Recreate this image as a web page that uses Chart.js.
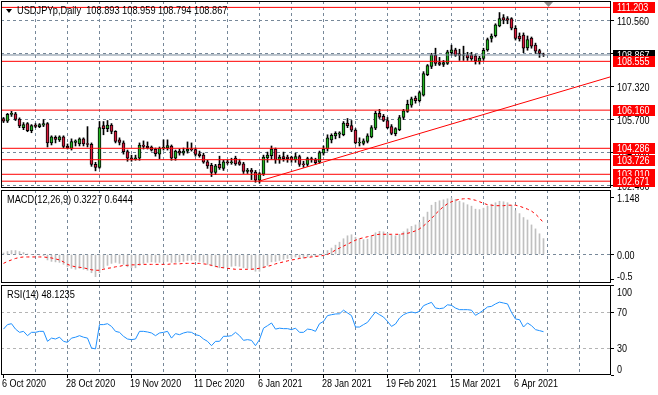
<!DOCTYPE html>
<html>
<head>
<meta charset="utf-8">
<script src="https://cdn.jsdelivr.net/npm/chart.js@4.4.1/dist/chart.umd.min.js"></script>
<style>
  html, body { margin: 0; padding: 0; background: #fff; }
  #wrap { position: relative; width: 658px; height: 395px; overflow: hidden; background: #fff; }
  #wrap canvas { position: absolute; left: 0; top: 0; }
  .cap { position: absolute; font: 11px/13px "Liberation Sans", Arial, sans-serif; color: #000;
         white-space: pre; transform: scaleX(0.84); transform-origin: 0 0; z-index: 3; }
  .tick { position: absolute; font: 11px/13px "Liberation Sans", Arial, sans-serif; color: #000;
          white-space: pre; transform: scaleX(0.82); transform-origin: 0 0; z-index: 4; }
  .tri { position: absolute; left: 6px; top: 9px; width: 0; height: 0;
         border-left: 3px solid transparent; border-right: 3px solid transparent; border-top: 4px solid #000; }
</style>
</head>
<body>
<div id="wrap">
  <canvas id="cMain" width="658" height="395"></canvas>
  <canvas id="cMacd" width="658" height="395"></canvas>
  <canvas id="cRsi" width="658" height="395"></canvas>
  <canvas id="cAxis" width="658" height="395"></canvas>
  <div class="tri"></div>
  <div class="cap" id="capMain" style="left:17px;top:4px"></div>
  <div class="cap" id="capMacd" style="left:7px;top:193px"></div>
  <div class="cap" id="capRsi" style="left:7px;top:288px"></div>
</div>
<script>
// ---- data ----
const symbolName = 'USDJPYp,Daily';
const dateLabels = ['6 Oct 2020', '28 Oct 2020', '19 Nov 2020', '11 Dec 2020', '6 Jan 2021',
                    '28 Jan 2021', '19 Feb 2021', '15 Mar 2021', '6 Apr 2021'];
const labelEvery = 16;  // bars between date labels
const gridEvery = 8;    // bars between vertical grid lines

const opens = [
  105.75, 105.62, 105.95, 105.98, 105.72, 105.30, 105.50, 105.15,
  105.42, 105.35, 105.42, 105.50, 104.55, 104.82, 104.70, 104.85,
  104.40, 104.28, 104.58, 104.50, 104.75, 104.52, 104.48, 103.50,
  103.35, 105.40, 105.25, 105.42, 105.12, 104.70, 104.55, 104.12,
  103.82, 103.75, 103.80, 104.45, 104.38, 104.35, 104.25, 104.00,
  104.30, 104.30, 104.40, 103.80, 104.15, 104.05, 104.15, 104.25,
  104.22, 104.02, 103.95, 103.62, 103.45, 103.10, 103.50, 103.30,
  103.62, 103.58, 103.80, 103.62, 103.52, 103.15, 103.22, 103.12,
  102.72, 103.02, 103.82, 103.92, 104.25, 103.72, 103.88, 103.85,
  103.85, 103.72, 103.88, 103.52, 103.50, 103.78, 103.72, 103.60,
  104.05, 104.25, 104.70, 104.90, 104.98, 104.95, 105.52, 105.40,
  105.18, 104.55, 104.52, 104.62, 104.85, 105.28, 106.00, 105.85,
  105.65, 105.35, 105.00, 105.20, 105.80, 106.10, 106.40, 106.75,
  106.62, 106.90, 107.90, 108.30, 108.85, 108.50, 108.40, 108.45,
  108.98, 109.12, 108.92, 108.85, 108.88, 108.88, 108.82, 108.55,
  108.70, 109.12, 109.68, 109.82, 110.30, 110.70, 110.65, 110.65,
  110.18, 109.80, 109.85, 109.22, 109.70, 109.35, 109.08, 108.893
];
const highs = [
  105.80, 106.00, 106.10, 106.05, 105.78, 105.55, 105.55, 105.45,
  105.50, 105.50, 105.70, 105.55, 104.90, 104.90, 104.90, 104.90,
  104.50, 104.75, 104.70, 104.80, 104.80, 105.35, 104.55, 103.60,
  105.60, 105.60, 105.65, 105.50, 105.15, 104.80, 104.65, 104.20,
  103.95, 103.95, 104.55, 104.65, 104.60, 104.40, 104.30, 104.35,
  104.70, 104.70, 104.45, 104.20, 104.25, 104.30, 104.60, 104.55,
  104.30, 104.15, 104.05, 103.70, 103.55, 103.50, 103.90, 103.70,
  103.70, 103.80, 103.90, 103.75, 103.60, 103.30, 103.30, 103.20,
  103.10, 103.95, 104.10, 104.40, 104.30, 103.95, 104.10, 103.95,
  103.90, 104.05, 103.95, 103.65, 103.85, 103.85, 103.80, 104.15,
  104.40, 104.95, 105.00, 105.10, 105.10, 105.60, 105.75, 105.65,
  105.25, 104.80, 104.75, 105.00, 105.40, 106.10, 106.20, 105.95,
  105.80, 105.45, 105.30, 105.90, 106.20, 106.65, 106.80, 106.85,
  107.10, 108.05, 108.40, 108.95, 109.20, 108.75, 108.60, 109.10,
  109.35, 109.20, 109.15, 109.30, 109.00, 109.00, 108.90, 108.80,
  109.20, 109.70, 109.90, 110.40, 110.95, 110.85, 110.75, 110.70,
  110.30, 109.95, 109.95, 109.80, 109.75, 109.45, 109.15, 108.959
];
const lows = [
  105.55, 105.55, 105.85, 105.65, 105.30, 105.20, 105.10, 105.05,
  105.30, 105.30, 105.35, 104.35, 104.45, 104.55, 104.62, 104.30,
  104.25, 104.20, 104.40, 104.40, 104.40, 104.35, 103.40, 103.18,
  103.30, 104.95, 105.10, 105.00, 104.55, 104.45, 104.00, 103.65,
  103.65, 103.70, 103.70, 104.25, 104.25, 104.15, 103.90, 103.78,
  104.20, 104.20, 103.70, 103.70, 103.95, 103.95, 104.05, 104.15,
  103.90, 103.85, 103.55, 103.30, 102.90, 103.00, 103.25, 103.20,
  103.50, 103.50, 103.45, 103.45, 103.05, 103.05, 102.75, 102.62,
  102.58, 102.95, 103.60, 103.75, 103.55, 103.55, 103.65, 103.60,
  103.60, 103.60, 103.40, 103.35, 103.40, 103.60, 103.50, 103.55,
  103.95, 104.15, 104.55, 104.75, 104.80, 104.90, 105.30, 105.10,
  104.50, 104.40, 104.45, 104.55, 104.80, 105.20, 105.75, 105.60,
  105.25, 104.95, 104.90, 105.15, 105.70, 106.05, 106.30, 106.50,
  106.55, 106.85, 107.85, 108.20, 108.35, 108.35, 108.30, 108.40,
  108.85, 108.80, 108.60, 108.60, 108.60, 108.60, 108.42, 108.42,
  108.60, 109.05, 109.50, 109.75, 110.25, 110.40, 110.40, 110.10,
  109.60, 109.55, 108.98, 109.10, 109.20, 108.95, 108.75, 108.794
];
const closes = [
  105.62, 105.95, 106.00, 105.70, 105.38, 105.45, 105.15, 105.40,
  105.36, 105.45, 105.50, 104.55, 104.85, 104.72, 104.85, 104.38,
  104.30, 104.62, 104.65, 104.75, 104.50, 104.48, 103.50, 103.35,
  105.30, 105.25, 105.42, 105.12, 104.62, 104.58, 104.12, 103.80,
  103.75, 103.82, 104.45, 104.38, 104.32, 104.20, 104.02, 104.28,
  104.33, 104.42, 103.80, 104.15, 104.05, 104.15, 104.25, 104.22,
  103.98, 103.92, 103.60, 103.42, 103.10, 103.42, 103.32, 103.62,
  103.58, 103.62, 103.52, 103.50, 103.15, 103.22, 103.12, 102.72,
  103.05, 103.85, 103.95, 104.25, 103.72, 103.85, 103.78, 103.78,
  103.72, 103.88, 103.50, 103.48, 103.78, 103.74, 103.58, 104.08,
  104.25, 104.80, 104.92, 105.02, 105.05, 105.52, 105.40, 105.18,
  104.55, 104.58, 104.65, 104.90, 105.30, 106.00, 105.82, 105.66,
  105.30, 105.02, 105.25, 105.80, 106.12, 106.45, 106.72, 106.62,
  107.02, 107.95, 108.35, 108.88, 108.45, 108.40, 108.50, 109.02,
  109.12, 108.85, 108.85, 108.88, 108.72, 108.68, 108.58, 108.72,
  109.10, 109.62, 109.80, 110.35, 110.65, 110.58, 110.58, 110.18,
  109.68, 109.65, 109.20, 109.62, 109.30, 109.05, 108.95, 108.867
];

const macdMain = [
  0.03, 0.06, 0.08, 0.08, 0.06, 0.04, 0.01, 0.00,
  -0.01, -0.01, -0.02, -0.11, -0.14, -0.15, -0.16, -0.20,
  -0.25, -0.28, -0.30, -0.28, -0.30, -0.32, -0.37, -0.45,
  -0.37, -0.28, -0.22, -0.18, -0.16, -0.18, -0.20, -0.25,
  -0.27, -0.27, -0.22, -0.18, -0.16, -0.15, -0.16, -0.16,
  -0.15, -0.14, -0.16, -0.16, -0.15, -0.14, -0.12, -0.115,
  -0.12, -0.14, -0.16, -0.20, -0.23, -0.25, -0.27, -0.27,
  -0.26, -0.24, -0.23, -0.24, -0.27, -0.28, -0.30, -0.34,
  -0.34, -0.27, -0.22, -0.15, -0.14, -0.12, -0.10, -0.08,
  -0.07, -0.05, -0.07, -0.07, -0.05, -0.04, -0.04, -0.01,
  0.02, 0.08, 0.13, 0.19, 0.25, 0.32, 0.38, 0.40,
  0.35, 0.32, 0.30, 0.31, 0.38, 0.44, 0.47, 0.46,
  0.43, 0.39, 0.38, 0.41, 0.46, 0.52, 0.57, 0.60,
  0.65, 0.76, 0.86, 1.00, 1.06, 1.09, 1.11, 1.13,
  1.148, 1.12, 1.08, 1.05, 1.01, 0.98, 0.92, 0.91,
  0.94, 0.98, 1.02, 1.05, 1.08, 1.07, 1.05, 1.00,
  0.89, 0.83, 0.75, 0.70, 0.60, 0.52, 0.42, 0.3227
];
const macdSignal = [
  -0.18, -0.14, -0.11, -0.08, -0.06, -0.05, -0.05, -0.05,
  -0.05, -0.05, -0.05, -0.06, -0.07, -0.09, -0.11, -0.15,
  -0.20, -0.23, -0.25, -0.26, -0.27, -0.29, -0.31, -0.32,
  -0.32, -0.30, -0.28, -0.27, -0.25, -0.24, -0.22, -0.22,
  -0.21, -0.21, -0.20, -0.20, -0.20, -0.20, -0.20, -0.20,
  -0.20, -0.20, -0.19, -0.19, -0.19, -0.18, -0.18, -0.18,
  -0.18, -0.18, -0.19, -0.20, -0.22, -0.24, -0.26, -0.27,
  -0.28, -0.29, -0.30, -0.30, -0.30, -0.30, -0.30, -0.29,
  -0.28, -0.26, -0.24, -0.22, -0.19, -0.17, -0.15, -0.13,
  -0.11, -0.10, -0.08, -0.07, -0.06, -0.05, -0.04, -0.03,
  -0.02, 0.00, 0.04, 0.09, 0.13, 0.17, 0.21, 0.25,
  0.29, 0.32, 0.34, 0.36, 0.38, 0.40, 0.41, 0.41,
  0.41, 0.41, 0.41, 0.41, 0.42, 0.43, 0.45, 0.48,
  0.52, 0.58, 0.65, 0.73, 0.82, 0.90, 0.97, 1.03,
  1.07, 1.10, 1.12, 1.13, 1.135, 1.12, 1.10, 1.07,
  1.04, 1.01, 1.00, 0.99, 0.99, 0.99, 1.00, 1.00,
  1.00, 0.98, 0.95, 0.92, 0.88, 0.82, 0.74, 0.6444
];
const rsiValues = [
  51.0, 56.0, 57.0, 51.0, 47.4, 48.5, 43.7, 47.4,
  47.4, 48.5, 48.5, 37.4, 41.0, 40.0, 42.0, 37.4,
  36.3, 41.0, 42.0, 43.7, 42.0, 41.0, 30.0, 29.0,
  56.0, 56.0, 57.0, 54.0, 48.5, 47.4, 43.0, 40.0,
  39.3, 40.0, 48.5, 48.5, 47.8, 46.7, 43.7, 46.7,
  47.4, 48.5, 41.0, 46.0, 44.8, 46.7, 47.8, 47.4,
  44.8, 43.7, 40.0, 37.4, 32.6, 37.4, 37.4, 43.0,
  43.0, 43.7, 47.4, 43.7, 38.5, 39.3, 38.5, 32.6,
  39.3, 52.0, 54.8, 57.8, 51.0, 52.0, 51.5, 51.5,
  50.4, 52.0, 47.4, 47.4, 51.0, 50.4, 48.5, 57.0,
  59.6, 66.0, 67.0, 67.8, 68.0, 72.0, 69.0, 66.0,
  53.3, 53.3, 56.0, 58.5, 64.4, 70.0, 67.0, 64.4,
  59.6, 54.0, 56.7, 63.3, 67.0, 69.0, 70.0, 69.0,
  70.7, 77.0, 79.0, 80.7, 74.4, 73.7, 74.4, 78.0,
  77.4, 74.4, 72.6, 72.6, 72.6, 72.0, 66.3, 69.0,
  72.0, 75.6, 76.3, 79.0, 81.0, 80.0, 79.0, 69.6,
  62.2, 61.5, 53.3, 57.8, 54.8, 50.4, 49.3, 48.1235
];

const levelPrices = [111.203, 108.555, 106.160, 104.286, 103.726, 103.010, 102.671];
const bidPrice = 108.867;
const trendStart = [64, 102.68];
const trendEnd = [152, 107.81];
const priceTicks = [110.560, 108.940, 107.320, 105.700, 104.080, 102.460];
const macdTicks = [1.148, 0, -0.5];
const rsiTicks = [100, 70, 30, 0];
const rsiLevels = [70, 30];
const shiftMarkBar = 136;

// ---- look ----
const FONT = '11px "Liberation Sans", Arial, sans-serif';
const TEXT_SX = 0.82;   // the terminal font is narrow
const GRID = '#778899';
const BULL = '#22b422';
const BEAR = '#d81b3c';
const NONE = 'rgba(0,0,0,0)';
const X_MIN = -0.625, X_MAX = 151.875;

const last = closes.length - 1;
document.getElementById('capMain').textContent =
  symbolName + '  ' + [opens[last], highs[last], lows[last], closes[last]].map(v => v.toFixed(3)).join(' ');
document.getElementById('capMacd').textContent =
  'MACD(12,26,9) ' + macdMain[last].toFixed(4) + ' ' + macdSignal[last].toFixed(4);
document.getElementById('capRsi').textContent = 'RSI(14) ' + rsiValues[last].toFixed(4);

function dateAt(v) {
  if (v % labelEvery !== 0) return '';
  return dateLabels[v / labelEvery] || '';
}

const gridBars = [];
for (let v = 0; v <= X_MAX; v += gridEvery) gridBars.push(v);

function narrowText(ctx, text, x, y) {
  ctx.save();
  ctx.translate(x, y);
  ctx.scale(TEXT_SX, 1);
  ctx.fillText(text, 0, 0);
  ctx.restore();
}

function xAxis(withTicks) {
  return {
    type: 'linear', min: X_MIN, max: X_MAX, bounds: 'data', offset: false,
    afterBuildTicks: s => { s.ticks = gridBars.map(v => ({ value: v })); },
    afterFit: s => { s.height = withTicks ? 20 : 0; },
    grid: {
      offset: false,
      color: c => (c.tick && c.tick.value > 0 ? GRID : NONE),
      drawTicks: withTicks,
      tickLength: 3,
      tickColor: c => (c.tick && dateAt(c.tick.value) ? '#000' : NONE)
    },
    border: { display: false, dash: [3, 3] },
    ticks: { display: false }
  };
}

function yAxis(min, max, values, gridColor) {
  return {
    position: 'right', min: min, max: max, bounds: 'data',
    afterBuildTicks: s => { s.ticks = values.map(v => ({ value: v })); },
    afterFit: s => { s.width = 47; },
    grid: { color: gridColor, tickLength: 3, tickColor: '#000' },
    border: { display: false, dash: [3, 3] },
    ticks: { display: false }
  };
}

const paneFrame = {
  id: 'paneFrame',
  afterDraw(chart) {
    const { ctx, chartArea: a } = chart;
    ctx.save();
    ctx.strokeStyle = '#000';
    ctx.lineWidth = 1;
    ctx.strokeRect(a.left + 0.5, a.top + 0.5, a.right - a.left - 1, a.bottom - a.top - 1);
    ctx.restore();
  }
};

const common = {
  responsive: false,
  animation: false,
  events: [],
  plugins: { legend: { display: false }, tooltip: { enabled: false } }
};

function hLine(v, color) {
  return { type: 'line', data: [{ x: X_MIN, y: v }, { x: X_MAX, y: v }],
           borderColor: color, borderWidth: 1, pointRadius: 0 };
}

// ---- price pane ----
const bodies = opens.map((o, i) => ({ x: i, y: [o, closes[i]] }));
const wicks = lows.map((l, i) => ({ x: i, y: [l, highs[i]] }));
const bodyColors = opens.map((o, i) => (closes[i] >= o ? BULL : BEAR));

const mainChart = new Chart(document.getElementById('cMain'), {
  type: 'bar',
  data: {
    datasets: [
      ...levelPrices.map(v => hLine(v, '#ff0000')),
      { type: 'line', data: [{ x: trendStart[0], y: trendStart[1] }, { x: trendEnd[0], y: trendEnd[1] }],
        borderColor: '#ff0000', borderWidth: 1, pointRadius: 0 },
      hLine(bidPrice, GRID),
      { data: bodies, backgroundColor: bodyColors, borderColor: '#000', borderWidth: 1,
        borderSkipped: false, barThickness: 3, grouped: false },
      { data: wicks, backgroundColor: '#000', borderWidth: 0, barThickness: 1, grouped: false }
    ]
  },
  options: {
    ...common,
    layout: { autoPadding: false, padding: { left: 1, right: 0, top: 1, bottom: 207 } },
    scales: { x: xAxis(false), y: yAxis(102.3373, 111.5173, priceTicks, GRID) }
  },
  plugins: [paneFrame]
});

// ---- MACD pane ----
const macdChart = new Chart(document.getElementById('cMacd'), {
  type: 'bar',
  data: {
    datasets: [
      { type: 'line', data: macdSignal.map((v, i) => ({ x: i, y: v })),
        borderColor: '#ff0000', borderWidth: 1, borderDash: [3, 3], pointRadius: 0 },
      { data: macdMain.map((v, i) => ({ x: i, y: v })), backgroundColor: '#c0c0c0',
        borderWidth: 0, barThickness: 1, grouped: false }
    ]
  },
  options: {
    ...common,
    layout: { autoPadding: false, padding: { left: 1, right: 0, top: 190, bottom: 112 } },
    scales: {
      x: xAxis(false),
      y: yAxis(-0.5781, 1.3083, macdTicks, c => (c.tick && c.tick.value === 0 ? GRID : NONE))
    }
  },
  plugins: [paneFrame]
});

// ---- RSI pane ----
const rsiChart = new Chart(document.getElementById('cRsi'), {
  type: 'line',
  data: {
    datasets: [
      { data: rsiValues.map((v, i) => ({ x: i, y: v })), borderColor: '#1e90ff',
        borderWidth: 1, pointRadius: 0, tension: 0 }
    ]
  },
  options: {
    ...common,
    layout: { autoPadding: false, padding: { left: 1, right: 0, top: 285, bottom: 0 } },
    scales: {
      x: xAxis(true),
      y: yAxis(0, 100, rsiTicks, c => (c.tick && rsiLevels.includes(c.tick.value) ? '#b4b4b4' : NONE))
    }
  },
  plugins: [paneFrame]
});

// ---- axis texts and price tags, placed with each chart's own scales ----
const ax = document.getElementById('cAxis').getContext('2d');
ax.font = FONT;
ax.textBaseline = 'middle';

function yLabels(chart, values, format, nudge) {
  const ys = chart.scales.y, a = chart.chartArea;
  ax.fillStyle = '#000';
  values.forEach(v => {
    const y = Math.round(ys.getPixelForValue(v) + nudge(v)) + 1;
    if (isFinite(y)) narrowText(ax, format(v), a.right + 6, y);
  });
}
yLabels(mainChart, priceTicks, v => v.toFixed(3), () => 0);
yLabels(rsiChart, rsiTicks, v => String(v), v => (v === 100 ? 6.5 : v === 0 ? -6.5 : 0));

// MACD scale labels as page text, placed with the MACD chart's own scale
(function macdLabels() {
  const ys = macdChart.scales.y, a = macdChart.chartArea, wrap = document.getElementById('wrap');
  macdTicks.forEach(v => {
    const el = document.createElement('div');
    el.className = 'tick';
    el.textContent = v === 0 ? '0.00' : v < 0 ? v.toFixed(1) : v.toFixed(3);
    const y = ys.getPixelForValue(v) + (v < 0 ? -4 : 0);
    el.style.left = (a.right + 6) + 'px';
    el.style.top = Math.round(y - 5.5) + 'px';
    wrap.appendChild(el);
  });
})();

(function dates() {
  const xs = rsiChart.scales.x, a = rsiChart.chartArea;
  ax.fillStyle = '#000';
  dateLabels.forEach((s, k) => {
    narrowText(ax, s, xs.getPixelForValue(k * labelEvery) - 1.5, a.bottom + 9);
  });
})();

(function priceTags() {
  const ys = mainChart.scales.y, xs = mainChart.scales.x, a = mainChart.chartArea;
  const tag = (v, bg) => {
    const py = Math.round(ys.getPixelForValue(v));
    ax.fillStyle = bg;
    ax.fillRect(a.right + 2, py - 5, 42, 11);
    ax.fillStyle = '#fff';
    narrowText(ax, v.toFixed(3), a.right + 6, py + 1);
  };
  tag(bidPrice, '#000');
  levelPrices.forEach(v => tag(v, '#ff0000'));
  // chart shift marker
  const mx = Math.round(xs.getPixelForValue(shiftMarkBar));
  ax.fillStyle = '#8c8c8c';
  ax.beginPath();
  ax.moveTo(mx - 4, a.top + 1);
  ax.lineTo(mx + 5, a.top + 1);
  ax.lineTo(mx + 0.5, a.top + 6);
  ax.closePath();
  ax.fill();
})();
</script>
</body>
</html>
